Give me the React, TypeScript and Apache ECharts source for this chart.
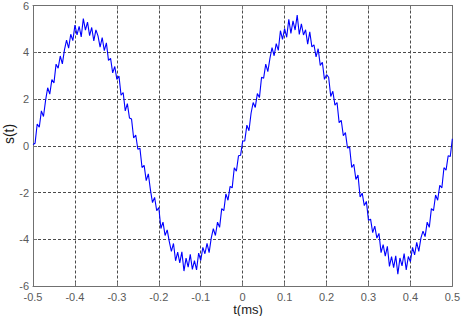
import React, { useEffect, useRef } from "react";
import * as echarts from "echarts";

// Sampling grid of the signal (ms)
const T_START = -0.5;
const T_STEP = 0.005;

// s(t) samples, one every 0.005 ms from -0.5 to 0.5
const lobe1 = [
  0.05, 0.11, 0.93, 0.79, 1.49, 1.25, 1.94, 2.48, 2.21, 2.83,
  2.69, 3.49, 3.32, 3.84, 3.5, 4.1, 4.52, 4.18, 4.77, 4.5,
  5.16, 4.74, 5.11, 4.66, 5.44, 4.95, 5.29, 4.71, 5.06, 4.49,
  4.96, 4.7, 4.22, 4.63, 4.07, 4.4, 3.65, 3.74, 3.12, 3.39,
  2.84, 2.98, 2.16, 2.28, 1.49, 1.8, 1.19, 1.14, 0.33, 0.46,
];
const lobe2 = [
  -0.15, -0.11, -0.93, -0.84, -1.49, -1.2, -1.89, -2.43, -2.21, -2.78,
  -2.64, -3.54, -3.27, -3.84, -3.6, -4.1, -4.52, -4.18, -4.92, -4.55,
  -5.01, -4.54, -5.36, -4.81, -5.19, -4.65, -5.29, -4.91, -5.31, -4.59,
  -4.91, -4.35, -4.62, -4.18, -4.57, -3.95, -3.55, -3.84, -3.27, -3.49,
  -2.69, -2.78, -2.06, -2.33, -1.74, -1.8, -0.94, -1.09, -0.43, -0.41,
];
const lobe3 = [
  0.2, 0.21, 0.88, 0.64, 1.39, 1.85, 1.64, 2.23, 2.06, 2.93,
  2.89, 3.49, 3.17, 3.74, 4.2, 3.85, 4.37, 4.08, 4.92, 4.55,
  5.01, 4.64, 5.41, 4.81, 5.34, 4.95, 5.59, 4.76, 5.21, 4.74,
  4.96, 4.35, 4.87, 4.23, 4.32, 3.8, 4.15, 3.44, 3.57, 2.84,
  3.04, 2.93, 2.11, 2.33, 1.74, 1.85, 0.99, 1.09, 0.43, 0.56,
];
const lobe4 = [
  -0.1, -0.06, -0.93, -0.79, -1.44, -1.25, -2.19, -2.03, -2.56, -2.38,
  -3.19, -3.14, -3.72, -3.44, -3.95, -3.75, -4.57, -4.23, -4.72, -4.3,
  -5.16, -4.74, -5.21, -4.71, -5.49, -4.8, -5.14, -4.61, -5.31, -4.74,
  -4.96, -4.35, -4.67, -4.13, -4.52, -3.95, -3.65, -3.89, -3.27, -3.49,
  -2.69, -2.78, -2.11, -2.33, -1.69, -1.8, -0.94, -1.04, -0.43, -0.46,
  0.3,
];
const sValues = [...lobe1, ...lobe2, ...lobe3, ...lobe4];

const X_MIN = -0.5;
const X_MAX = 0.5;
const X_INTERVAL = 0.1;
const Y_MIN = -6;
const Y_MAX = 6;
const Y_INTERVAL = 2;

const X_TITLE = "t(ms)";
const Y_TITLE = "s(t)";

const FONT = "Arial, 'Liberation Sans', Helvetica, sans-serif";

export default function App() {
  const ref = useRef<HTMLDivElement>(null);

  useEffect(() => {
    if (!ref.current) return;
    const chart = echarts.init(ref.current, undefined, { renderer: "svg" });
    const data = sValues.map((v, i) => [T_START + i * T_STEP, v]);
    const fmtX = (v: number) => (Math.abs(v) < 1e-9 ? "0" : v.toFixed(1));
    const axisLineStyle = { color: "#707070", width: 1 };
    const splitLine = {
      show: true,
      lineStyle: { color: "#4a4a4a", type: [3, 2] as any, width: 1 },
    };
    chart.setOption({
      animation: false,
      backgroundColor: "#ffffff",
      grid: { left: 33, top: 5, right: 6, bottom: 30, containLabel: false },
      xAxis: [
        {
          type: "value",
          min: X_MIN,
          max: X_MAX,
          interval: X_INTERVAL,
          position: "bottom",
          axisLine: { show: true, onZero: false, lineStyle: axisLineStyle },
          axisTick: { show: true, inside: true, length: 4, lineStyle: axisLineStyle },
          axisLabel: {
            formatter: fmtX,
            color: "#5a5a5a",
            fontSize: 11,
            fontFamily: FONT,
            margin: 5,
            showMinLabel: true,
            showMaxLabel: true,
          },
          splitLine,
        },
        {
          type: "value",
          min: X_MIN,
          max: X_MAX,
          interval: X_INTERVAL,
          position: "top",
          axisLine: { show: true, onZero: false, lineStyle: axisLineStyle },
          axisTick: { show: true, inside: true, length: 4, lineStyle: axisLineStyle },
          axisLabel: { show: false },
          splitLine: { show: false },
        },
      ],
      yAxis: [
        {
          type: "value",
          min: Y_MIN,
          max: Y_MAX,
          interval: Y_INTERVAL,
          position: "left",
          axisLine: { show: true, onZero: false, lineStyle: axisLineStyle },
          axisTick: { show: true, inside: true, length: 4, lineStyle: axisLineStyle },
          axisLabel: {
            color: "#5a5a5a",
            fontSize: 11,
            fontFamily: FONT,
            margin: 4,
            showMinLabel: true,
            showMaxLabel: true,
          },
          splitLine,
        },
        {
          type: "value",
          min: Y_MIN,
          max: Y_MAX,
          interval: Y_INTERVAL,
          position: "right",
          axisLine: { show: true, onZero: false, lineStyle: axisLineStyle },
          axisTick: { show: true, inside: true, length: 4, lineStyle: axisLineStyle },
          axisLabel: { show: false },
          splitLine: { show: false },
        },
      ],
      graphic: [
        {
          type: "text",
          x: 248,
          y: 309,
          style: {
            text: X_TITLE,
            fontSize: 13,
            fontFamily: FONT,
            fill: "#1a1a1a",
            align: "center",
            verticalAlign: "middle",
          },
        },
        {
          type: "text",
          x: 9,
          y: 134,
          rotation: Math.PI / 2,
          style: {
            text: Y_TITLE,
            fontSize: 14,
            fontFamily: FONT,
            fill: "#1a1a1a",
            align: "center",
            verticalAlign: "middle",
          },
        },
      ],
      series: [
        {
          type: "line",
          xAxisIndex: 0,
          yAxisIndex: 0,
          data,
          showSymbol: false,
          symbol: "none",
          lineStyle: { color: "#0000ff", width: 1.1 },
          z: 5,
        },
      ],
    });
    return () => chart.dispose();
  }, []);

  return (
    <div
      ref={ref}
      style={{ position: "absolute", left: 0, top: 0, width: 463, height: 316 }}
    />
  );
}
